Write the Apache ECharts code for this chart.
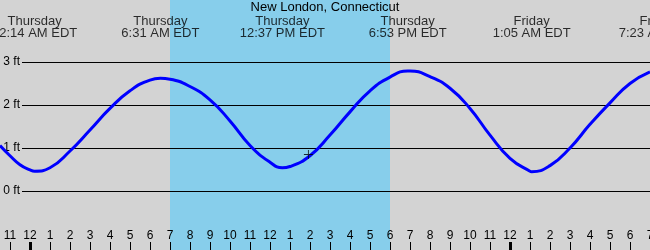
<!DOCTYPE html>
<html>
<head>
<meta charset="utf-8">
<script src="https://cdn.jsdelivr.net/npm/echarts@6/dist/echarts.min.js"></script>
<style>
html,body{margin:0;padding:0;background:#d3d3d3;}
#chart{width:650px;height:250px;}
</style>
</head>
<body>
<div id="chart"></div>
<script>
// Hours measured from midnight Thursday (0 = 12 AM Thu)
const tideHours = [-1.5, -1, -0.5, 0, 0.233, 1, 2, 3, 4, 5, 6, 6.517, 7, 8, 9, 10, 11, 12, 12.617, 13, 14, 15, 16, 17, 18, 18.883, 19, 20, 21, 22, 23, 24, 25, 25.083, 26, 27, 28, 29, 30, 31];
const tideHeights = [1.06, 0.82, 0.61, 0.49, 0.46, 0.54, 0.93, 1.42, 1.92, 2.33, 2.58, 2.62, 2.60, 2.43, 2.12, 1.63, 1.06, 0.67, 0.54, 0.57, 0.82, 1.30, 1.84, 2.33, 2.65, 2.79, 2.79, 2.66, 2.39, 1.92, 1.30, 0.76, 0.46, 0.45, 0.59, 1.00, 1.55, 2.05, 2.50, 2.77];

const extremeHours = [0.233, 6.517, 12.617, 18.883, 25.083, 31.383];
const extremeDays = ['Thursday', 'Thursday', 'Thursday', 'Thursday', 'Friday', 'Friday'];
const extremeTimes = ['12:14 AM EDT', '6:31 AM EDT', '12:37 PM EDT', '6:53 PM EDT', '1:05 AM EDT', '7:23 AM EDT'];

const sunrise = 7;
const sunset = 18;

const nowPoint = [13.92, 0.85];

const hourTicks = [-1,0,1,2,3,4,5,6,7,8,9,10,11,12,13,14,15,16,17,18,19,20,21,22,23,24,25,26,27,28,29,30,31];
const hourLabels = ['11','12','1','2','3','4','5','6','7','8','9','10','11','12','1','2','3','4','5','6','7','8','9','10','11','12','1','2','3','4','5','6','7'];
const midnightTicks = [0, 24];

const FONT = 'Liberation Sans';
const X_MIN = -1.5, X_MAX = 31;
// label strip extends one hour (20px) past the right edge so the cut-off Friday label can be placed
const X_MAX_WIDE = 32;

const chart = echarts.init(document.getElementById('chart'), null, {renderer: 'canvas'});

const G = {outerBoundsMode: 'none', containLabel: false};
const option = {
  backgroundColor: '#d3d3d3',
  animation: false,
  textStyle: {fontFamily: FONT},
  title: {
    text: 'New London, Connecticut',
    left: 'center',
    top: 1,
    padding: 0,
    textStyle: {fontFamily: FONT, fontSize: 13, fontWeight: 'normal', color: '#000'}
  },
  grid: [
    Object.assign({left: 0, right: 0, top: 0, bottom: 0}, G),
    Object.assign({left: 0, right: 0, top: 19, bottom: 16}, G),
    Object.assign({left: 22, right: 0, top: 19, bottom: 16}, G),
    Object.assign({left: 0, right: 0, top: 0, bottom: 0}, G),
    Object.assign({left: 0, right: -20, top: 0, bottom: 0}, G)
  ],
  xAxis: [
    {
      gridIndex: 0, type: 'value', min: X_MIN, max: X_MAX, position: 'bottom',
      axisLine: {show: false}, splitLine: {show: false},
      axisTick: {show: true, inside: true, length: 8, customValues: hourTicks, lineStyle: {color: '#000', width: 1}},
      axisLabel: {
        show: true, inside: true, margin: 14, customValues: hourTicks,
        verticalAlign: 'middle',
        fontFamily: FONT, fontSize: 12, color: '#000',
        formatter: function (v) { const i = hourTicks.indexOf(v); return i >= 0 ? hourLabels[i] : ''; }
      },
      z: 3
    },
    {gridIndex: 1, type: 'value', min: X_MIN, max: X_MAX, show: false},
    {gridIndex: 2, type: 'value', min: 0, max: 1, show: false},
    {
      gridIndex: 3, type: 'value', min: X_MIN, max: X_MAX, position: 'bottom',
      axisLine: {show: false}, splitLine: {show: false},
      axisTick: {show: true, inside: true, length: 8, customValues: midnightTicks, lineStyle: {color: '#000', width: 3}},
      axisLabel: {show: false},
      z: 3
    },
    {gridIndex: 4, type: 'value', min: X_MIN, max: X_MAX_WIDE, show: false}
  ],
  yAxis: [
    {gridIndex: 0, type: 'value', min: 0, max: 1, show: false},
    {gridIndex: 1, type: 'value', min: -1, max: 4, show: false},
    {
      gridIndex: 2, type: 'value', min: -1, max: 4, interval: 1,
      axisLine: {show: false}, axisTick: {show: false},
      splitLine: {show: true, showMinLine: false, showMaxLine: false, lineStyle: {color: '#000', width: 1, type: 'solid'}},
      axisLabel: {
        show: true, margin: 2, showMinLabel: false, showMaxLabel: false,
        fontFamily: FONT, fontSize: 12, color: '#000',
        formatter: '{value} ft'
      },
      z: 3
    },
    {gridIndex: 3, type: 'value', min: 0, max: 1, show: false},
    {gridIndex: 4, type: 'value', min: 0, max: 1, show: false}
  ],
  series: [
    {
      name: 'daylight', type: 'line', xAxisIndex: 0, yAxisIndex: 0, data: [], z: 1, silent: true,
      markArea: {
        silent: true,
        itemStyle: {color: '#87ceeb', opacity: 1},
        data: [[{xAxis: sunrise}, {xAxis: sunset}]]
      }
    },
    {
      name: 'grid', type: 'line', xAxisIndex: 2, yAxisIndex: 2, data: [], z: 1
    },
    {
      name: 'tide', type: 'line', xAxisIndex: 1, yAxisIndex: 1,
      data: tideHours.map((h, i) => [h, tideHeights[i]]),
      smooth: 0.5,
      showSymbol: false, symbol: 'none',
      lineStyle: {color: '#0000ff', width: 3},
      z: 5, silent: true
    },
    {
      name: 'now', type: 'scatter', xAxisIndex: 1, yAxisIndex: 1,
      data: [nowPoint],
      symbol: 'path://M0,4.5H10V5.5H0Z M4.5,0H5.5V10H4.5Z',
      symbolSize: 9,
      itemStyle: {color: '#000'},
      z: 6, silent: true
    },
    {
      name: 'extremes', type: 'scatter', xAxisIndex: 4, yAxisIndex: 4,
      clip: false,
      data: extremeHours.map(h => [h, 1]),
      symbolSize: 0,
      label: {
        show: true, position: 'bottom', distance: 15,
        fontFamily: FONT, fontSize: 13, color: '#000', lineHeight: 12.5, align: 'center',
        formatter: function (p) { return extremeDays[p.dataIndex] + '\n' + extremeTimes[p.dataIndex]; }
      },
      z: 6, silent: true
    }
  ]
};
chart.setOption(option);
</script>
</body>
</html>
